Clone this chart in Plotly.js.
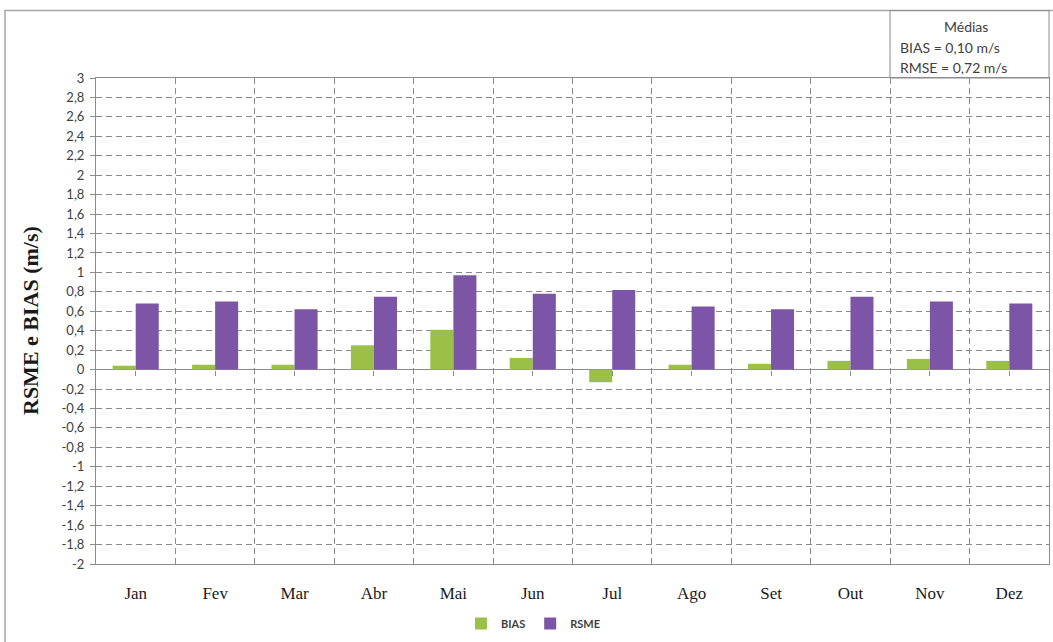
<!DOCTYPE html>
<html>
<head>
<meta charset="utf-8">
<script src="https://cdn.plot.ly/plotly-3.0.1.min.js"></script>
<style>
html,body{margin:0;padding:0;background:#fff;}
#chart{width:1053px;height:642px;}
</style>
</head>
<body>
<div id="chart"></div>
<script>
// ---- data ----
const months = ['Jan','Fev','Mar','Abr','Mai','Jun','Jul','Ago','Set','Out','Nov','Dez'];
const bias = [0.04, 0.05, 0.05, 0.25, 0.41, 0.12, -0.13, 0.05, 0.06, 0.09, 0.11, 0.09];
const rsme = [0.68, 0.70, 0.62, 0.75, 0.97, 0.78, 0.82, 0.65, 0.62, 0.75, 0.70, 0.68];
const yTickVals = [3, 2.8, 2.6, 2.4, 2.2, 2, 1.8, 1.6, 1.4, 1.2, 1, 0.8, 0.6, 0.4, 0.2, 0,
  -0.2, -0.4, -0.6, -0.8, -1, -1.2, -1.4, -1.6, -1.8, -2];
const yTickText = ['3','2,8','2,6','2,4','2,2','2','1,8','1,6','1,4','1,2','1','0,8','0,6','0,4','0,2','0',
  '-0,2','-0,4','-0,6','-0,8','-1','-1,2','-1,4','-1,6','-1,8','-2'];
const boxTitle = 'Médias';
const boxLines = ['BIAS = 0,10 m/s', 'RMSE = 0,72 m/s'];
const yTitle = 'RSME e BIAS (m/s)';

// ---- layout helpers ----
const W = 1053, H = 642;
const L = 96, R = 4, T = 78, B = 74;
const pw = W - L - R, ph = H - T - B;
const px = x => (x - L) / pw;
const py = y => (H - B - y) / ph;

const green = '#9bc047';
const purple = '#7d55a6';
const gridCol = '#8a8a8a';
const axisCol = '#8c8c8c';
const sans = 'Lato, Open Sans, sans-serif';

const traces = [
  {type:'bar', name:'BIAS', x:months, y:bias, marker:{color:green}},
  {type:'bar', name:'RSME', x:months, y:rsme, marker:{color:purple}},
  {type:'scatter', x:months, y:months.map(()=>null), xaxis:'x2', yaxis:'y', showlegend:false, hoverinfo:'skip'}
];

const layout = {
  width: W, height: H,
  margin: {l:L, r:R, t:T, b:B},
  paper_bgcolor:'#fff', plot_bgcolor:'#fff',
  barmode:'group', bargap:0.42, bargroupgap:0,
  showlegend:true,
  legend:{orientation:'h', x:px(461), xanchor:'left', y:py(628), yanchor:'middle',
    font:{family:sans, size:11, color:'#404040', weight:'bold'},
    itemwidth:30, tracegroupgap:0, bgcolor:'rgba(0,0,0,0)'},
  xaxis:{
    type:'category', categoryarray:months, range:[-0.5, 11.5],
    tickson:'boundaries', ticks:'', showgrid:true, gridcolor:gridCol, gridwidth:1, griddash:'6px,4px',
    showline:true, mirror:true, linecolor:axisCol, linewidth:1,
    tickfont:{family:'Liberation Serif, serif', size:17, color:'#1a1a1a'},
    ticklabelstandoff:14, zeroline:false, fixedrange:true
  },
  xaxis2:{
    type:'category', categoryarray:months, range:[-0.5, 11.5],
    overlaying:'x', anchor:'free', position:py(372), side:'bottom',
    showgrid:false, showline:false, ticks:'outside', ticklen:5, tickcolor:axisCol,
    showticklabels:false, zeroline:false
  },
  yaxis:{
    range:[-2, 3], tickmode:'array', tickvals:yTickVals, ticktext:yTickText,
    ticks:'outside', ticklen:5, tickcolor:axisCol,
    showgrid:true, gridcolor:gridCol, gridwidth:1, griddash:'6px,4px',
    zeroline:true, zerolinecolor:axisCol, zerolinewidth:1.5,
    showline:true, mirror:true, linecolor:axisCol, linewidth:1,
    tickfont:{family:sans, size:13, color:'#404040'},
    ticklabelstandoff:3, fixedrange:true
  },
  shapes:[
    {type:'rect', xref:'paper', yref:'paper', x0:px(5), x1:px(1060), y0:py(660), y1:py(10),
      line:{color:'#a6a6a6', width:1.5}, fillcolor:'rgba(0,0,0,0)', layer:'below'},
    {type:'rect', xref:'paper', yref:'paper', x0:px(890), x1:1, y0:1, y1:py(10),
      line:{color:axisCol, width:1}, fillcolor:'rgba(0,0,0,0)'}
  ],
  annotations:[
    {xref:'paper', yref:'paper', x:px(966), y:py(26), xanchor:'center', yanchor:'middle',
      text:boxTitle, showarrow:false, font:{family:sans, size:14, color:'#404040'}},
    {xref:'paper', yref:'paper', x:px(898), y:py(47), xanchor:'left', yanchor:'middle',
      text:boxLines[0], showarrow:false, font:{family:sans, size:14, color:'#404040'}},
    {xref:'paper', yref:'paper', x:px(898), y:py(67), xanchor:'left', yanchor:'middle',
      text:boxLines[1], showarrow:false, font:{family:sans, size:14, color:'#404040'}},
    {xref:'paper', yref:'paper', x:px(30), y:py(323), xanchor:'center', yanchor:'middle', textangle:-90,
      text:'<b>'+yTitle+'</b>', showarrow:false, font:{family:'Liberation Serif, serif', size:22, color:'#1a1a1a'}}
  ]
};

Plotly.newPlot('chart', traces, layout, {displayModeBar:false, staticPlot:true});
</script>
</body>
</html>
